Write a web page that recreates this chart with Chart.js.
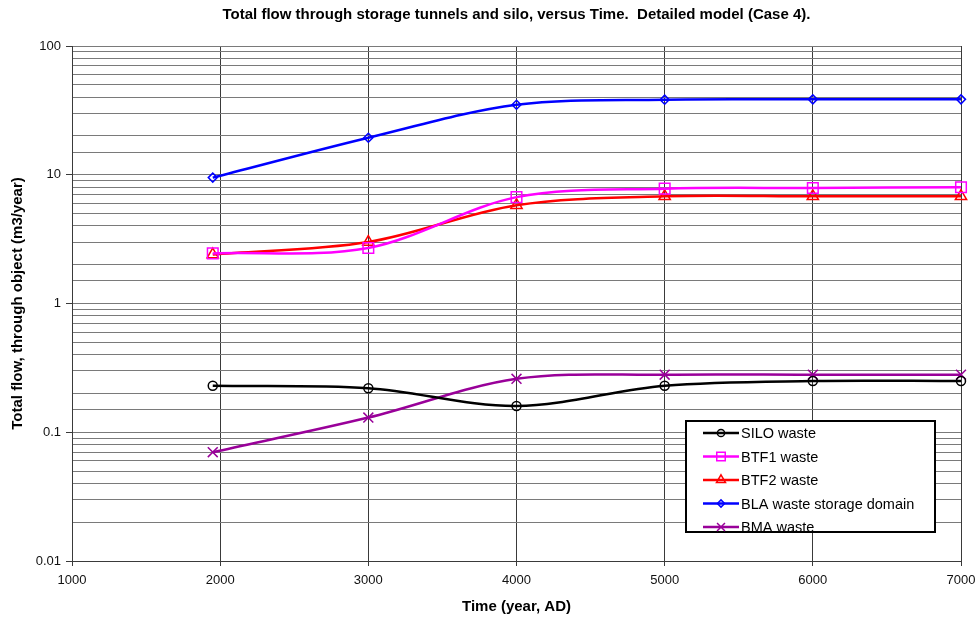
<!DOCTYPE html>
<html>
<head>
<meta charset="utf-8">
<script src="https://cdn.jsdelivr.net/npm/chart.js"></script>
<style>
  html, body { margin: 0; padding: 0; background: #fff; }
  #flow { display: block; }
</style>
</head>
<body>
<canvas id="flow" width="977" height="617"></canvas>
<script>
// values (m3/year)
var years = [1950, 3000, 4000, 5000, 6000, 7000];
var siloWaste = [0.23, 0.22, 0.16, 0.23, 0.25, 0.25];
var btf1Waste = [2.45, 2.7, 6.7, 7.8, 7.9, 8.0];
var btf2Waste = [2.4, 3.0, 5.8, 6.8, 6.8, 6.8];
var blaWaste = [9.5, 19.4, 35, 38.3, 38.5, 38.5];
var bmaWaste = [0.07, 0.13, 0.26, 0.28, 0.28, 0.28];

var seriesNames = ['SILO waste', 'BTF1 waste', 'BTF2 waste', 'BLA waste storage domain', 'BMA waste'];
var yLabels = [0.01, 0.1, 1, 10, 100];
var xMin = 1000, xMax = 7000, xStep = 1000;

function toPoints(vals) {
  return years.map(function(yr, i) { return {x: yr, y: vals[i]}; });
}

function isDecade(v) {
  for (var i = 0; i < yLabels.length; i++) {
    if (Math.abs(v - yLabels[i]) < yLabels[i] * 1e-6) return true;
  }
  return false;
}

function series(label, vals, color, style, radius) {
  return {
    label: label,
    data: toPoints(vals),
    borderColor: color,
    backgroundColor: color,
    borderWidth: 2.5,
    tension: 0.33,
    pointStyle: style,
    pointRadius: radius,
    pointHoverRadius: radius,
    pointBorderColor: color,
    pointBackgroundColor: 'rgba(0,0,0,0)',
    pointBorderWidth: 1.5,
    clip: false
  };
}

// legend drawn inside the plot, like the Excel original
var legendBox = {
  id: 'legendBox',
  afterDraw: function(chart) {
    var ctx = chart.ctx;
    var box = {x: 686, y: 421, w: 249, h: 111};
    ctx.save();
    ctx.fillStyle = '#fff';
    ctx.fillRect(box.x, box.y, box.w, box.h);
    ctx.strokeStyle = '#000';
    ctx.lineWidth = 2;
    ctx.strokeRect(box.x, box.y, box.w, box.h);
    chart.data.datasets.forEach(function(ds, i) {
      var y = 433 + i * 23.5;
      ctx.strokeStyle = ds.borderColor;
      ctx.lineWidth = 2.5;
      ctx.beginPath();
      ctx.moveTo(703, y);
      ctx.lineTo(739, y);
      ctx.stroke();
      ctx.fillStyle = 'rgba(0,0,0,0)';
      ctx.lineWidth = 1.5;
      Chart.helpers.drawPoint(ctx, {
        pointStyle: ds.pointStyle,
        radius: ds.pointRadius * 0.8,
        rotation: 0,
        borderWidth: 1.5
      }, 721, y);
      ctx.fillStyle = '#000';
      ctx.font = '14.5px Arial, "Liberation Sans", sans-serif';
      ctx.textBaseline = 'middle';
      ctx.textAlign = 'left';
      ctx.fillText(ds.label, 741, y + 1);
    });
    ctx.restore();
  }
};

var ctx = document.getElementById('flow').getContext('2d');
var flowChart = new Chart(ctx, {
  type: 'line',
  data: {
    datasets: [
      series(seriesNames[0], siloWaste, '#000000', 'circle', 4.5),
      series(seriesNames[1], btf1Waste, '#ff00ff', 'rect', 7.5),
      series(seriesNames[2], btf2Waste, '#ff0000', 'triangle', 6.5),
      series(seriesNames[3], blaWaste, '#0000ff', 'rectRot', 4.5),
      series(seriesNames[4], bmaWaste, '#990099', 'crossRot', 7)
    ]
  },
  plugins: [legendBox],
  options: {
    responsive: false,
    animation: false,
    layout: {
      padding: {left: 0, right: 0, top: 0, bottom: 0}
    },
    plugins: {
      legend: {display: false},
      tooltip: {enabled: false},
      title: {
        display: true,
        fullSize: false,
        text: 'Total flow through storage tunnels and silo, versus Time.  Detailed model (Case 4).',
        color: '#000',
        font: {family: 'Arial, "Liberation Sans", sans-serif', size: 15, weight: 'bold'},
        padding: {top: 6, bottom: 22}
      }
    },
    scales: {
      x: {
        type: 'linear',
        min: xMin,
        max: xMax,
        afterFit: function(scale) {
          scale.height = 56;
          scale.paddingRight = 16;
        },
        ticks: {
          stepSize: xStep,
          color: '#111',
          padding: 7,
          maxRotation: 0,
          font: {family: 'Arial, "Liberation Sans", sans-serif', size: 13},
          callback: function(v) { return String(v); }
        },
        grid: {color: '#3a3a3a', lineWidth: 1, tickLength: 5, tickColor: '#3a3a3a'},
        border: {color: '#3a3a3a'},
        title: {
          display: true,
          text: 'Time (year, AD)',
          color: '#000',
          font: {family: 'Arial, "Liberation Sans", sans-serif', size: 15, weight: 'bold'},
          padding: {top: 0, bottom: 1}
        }
      },
      y: {
        type: 'logarithmic',
        min: 0.01,
        max: 100,
        afterFit: function(scale) { scale.width = 72; },
        ticks: {
          autoSkip: false,
          color: '#111',
          padding: 5,
          font: {family: 'Arial, "Liberation Sans", sans-serif', size: 13},
          callback: function(v) { return isDecade(v) ? String(v) : ''; }
        },
        grid: {
          color: '#7a7a7a',
          lineWidth: 1,
          tickLength: 6,
          tickColor: function(c) { return c.tick && isDecade(c.tick.value) ? '#3a3a3a' : 'rgba(0,0,0,0)'; }
        },
        border: {color: '#3a3a3a'},
        title: {
          display: true,
          text: 'Total flow, through object (m3/year)',
          color: '#000',
          font: {family: 'Arial, "Liberation Sans", sans-serif', size: 15, weight: 'bold'},
          padding: {top: 9, bottom: 0}
        }
      }
    }
  }
});
</script>
</body>
</html>
